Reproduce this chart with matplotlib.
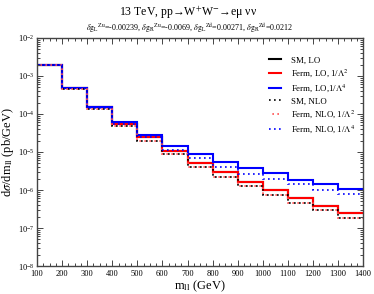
import numpy as np
import matplotlib
matplotlib.use("Agg")
import matplotlib.pyplot as plt
from matplotlib.ticker import MultipleLocator, LogLocator

plt.rcParams['font.family'] = ['Liberation Serif', 'DejaVu Serif']
plt.rcParams['mathtext.fontset'] = 'stix'

# === bins in m_ll (GeV) ===
edges = np.arange(100, 1500, 100)

# === cross sections dsigma/dm_ll (pb/GeV) ===
sm_lo = [1.9e-3, 4.7e-4, 1.5e-4, 5.5e-5, 2.45e-5, 1.07e-5, 5.2e-6,
         2.9e-6, 1.65e-6, 1.0e-6, 6.0e-7, 3.9e-7, 2.5e-7]
ferm_lo_2 = [1.9e-3, 4.7e-4, 1.5e-4, 5.5e-5, 2.45e-5, 1.07e-5, 5.2e-6,
             2.9e-6, 1.65e-6, 1.0e-6, 6.0e-7, 3.9e-7, 2.5e-7]
ferm_lo_4 = [1.9e-3, 4.8e-4, 1.55e-4, 6.3e-5, 2.8e-5, 1.48e-5, 8.7e-6,
             5.5e-6, 3.7e-6, 2.75e-6, 1.85e-6, 1.4e-6, 1.07e-6]
sm_nlo = [1.95e-3, 4.6e-4, 1.38e-4, 4.7e-5, 1.95e-5, 8.7e-6, 4.1e-6,
          2.2e-6, 1.28e-6, 7.4e-7, 4.6e-7, 2.9e-7, 1.85e-7]
ferm_nlo_2 = [1.95e-3, 4.6e-4, 1.38e-4, 4.7e-5, 1.95e-5, 8.7e-6, 4.1e-6,
              2.2e-6, 1.28e-6, 7.4e-7, 4.6e-7, 2.9e-7, 1.85e-7]
ferm_nlo_4 = [1.95e-3, 4.7e-4, 1.45e-4, 5.5e-5, 2.45e-5, 1.15e-5, 6.8e-6,
              4.1e-6, 2.7e-6, 1.9e-6, 1.4e-6, 1.0e-6, 7.7e-7]

fig = plt.figure(figsize=(3.74, 2.94), dpi=100)
ax = fig.add_axes([0.099, 0.095, 0.872, 0.776])

ax.stairs(sm_lo, edges, baseline=None, color='black', lw=1.5, label='SM, LO')
ax.stairs(ferm_lo_2, edges, baseline=None, color='red', lw=1.5,
          label=r'Ferm, LO, 1/$\Lambda^2$')
ax.stairs(ferm_lo_4, edges, baseline=None, color='blue', lw=1.5,
          label=r'Ferm, LO,1/$\Lambda^4$')
ax.stairs(sm_nlo, edges, baseline=None, color='black', lw=1.2, ls=(0, (1, 2)),
          label='SM, NLO')
ax.stairs(ferm_nlo_2, edges, baseline=None, color='#ff5050', lw=1.2, ls=(1, (1, 2)),
          label=r'Ferm, NLO, 1/$\Lambda^2$')
ax.stairs(ferm_nlo_4, edges, baseline=None, color='blue', lw=1.2, ls=(0, (1, 2)),
          label=r'Ferm, NLO, 1/$\Lambda^4$')

ax.set_yscale('log')
ax.set_xlim(100, 1400)
ax.set_ylim(1e-8, 1e-2)
ax.xaxis.set_major_locator(MultipleLocator(100))
ax.xaxis.set_minor_locator(MultipleLocator(25))
ax.yaxis.set_major_locator(LogLocator(base=10, numticks=10))
ax.yaxis.set_minor_locator(LogLocator(base=10, subs=np.arange(2, 10), numticks=10))
ax.tick_params(which='both', direction='in', top=True, right=True,
               labelsize=6, width=0.7, color='#444444')
ax.tick_params(axis='x', pad=3)
ax.tick_params(axis='y', pad=2)
ax.tick_params(which='major', length=4)
ax.tick_params(which='minor', length=2)
for s in ax.spines.values():
    s.set_color('#444444')
    s.set_linewidth(1.0)

ax.set_xlabel(r'm$_{\rm ll}$ (GeV)', fontsize=9, labelpad=0)
ax.set_ylabel(r'd$\sigma$/dm$_{\rm ll}$ (pb/GeV)', fontsize=9, labelpad=1)

fig.text(0.503, 0.958, r'13 TeV, pp→W$^{+}$W$^{-}$→eμ νν',
         ha='center', va='center', fontsize=8.5)
sub = (r'$\delta{\rm g}_{\rm L}{}^{\rm Zu}$=-0.00239, '
       r'$\delta{\rm g}_{\rm R}{}^{\rm Zu}$=-0.0069, '
       r'$\delta{\rm g}_{\rm L}{}^{\rm Zd}$=0.00271, '
       r'$\delta{\rm g}_{\rm R}{}^{\rm Zd}$=0.0212')
fig.text(0.508, 0.906, sub, ha='center', va='center', fontsize=5.8)

leg = ax.legend(loc='upper right', bbox_to_anchor=(1.0, 0.955), frameon=False,
                fontsize=6.4, handlelength=1.4, handletextpad=1.1, labelspacing=0.35)

fig.savefig('out.png', dpi=100)
